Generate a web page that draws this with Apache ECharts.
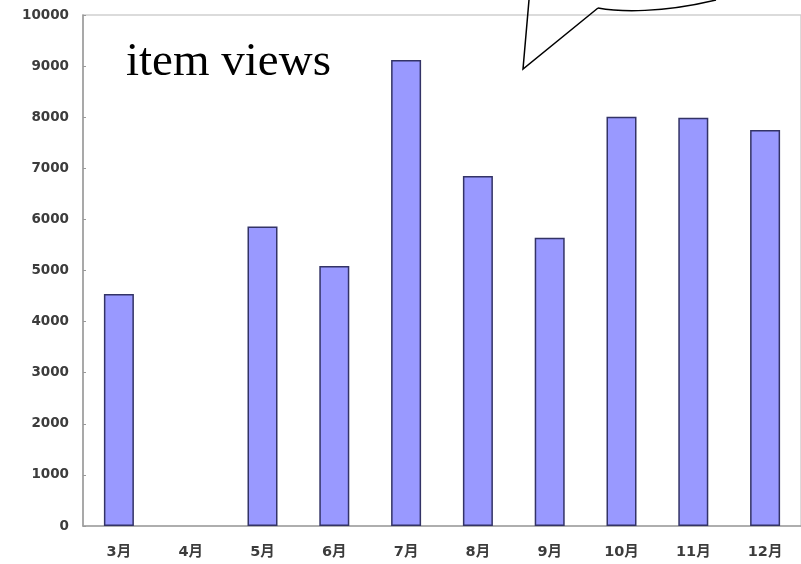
<!DOCTYPE html>
<html>
<head>
<meta charset="utf-8">
<script src="https://cdn.jsdelivr.net/npm/echarts@6/dist/echarts.min.js"></script>
<style>
  html, body { margin: 0; padding: 0; background: #ffffff; }
  #chart { width: 801px; height: 564px; }
</style>
</head>
<body>
<div id="chart"></div>
<script>
// Monthly item views
const months = ['3月', '4月', '5月', '6月', '7月', '8月', '9月', '10月', '11月', '12月'];
const views = [4540, '-', 5860, 5090, 9120, 6850, 5640, 8010, 7990, 7750];
const yTicks = { min: 0, max: 10000, step: 1000 };
const caption = 'item views';

const labelFont = "'DejaVu Sans', 'Noto Sans CJK JP', sans-serif";

const chart = echarts.init(document.getElementById('chart'), null, { renderer: 'canvas' });

chart.setOption({
  backgroundColor: '#ffffff',
  animation: false,
  grid: {
    left: 83,
    top: 15,
    width: 720,
    height: 511,
    show: true,
    borderColor: '#cfcfcf',
    borderWidth: 1.5,
    backgroundColor: 'transparent'
  },
  xAxis: {
    type: 'category',
    data: months,
    boundaryGap: true,
    axisLine: { lineStyle: { color: '#a0a0a0', width: 1.5 } },
    axisTick: { inside: true, length: 4, lineStyle: { color: '#a0a0a0' } },
    axisLabel: {
      margin: 19,
      fontSize: 14.5,
      fontWeight: 'bold',
      fontFamily: labelFont,
      color: '#3c3c3c'
    },
    splitLine: { show: false }
  },
  yAxis: {
    type: 'value',
    min: yTicks.min,
    max: yTicks.max,
    interval: yTicks.step,
    axisLine: { show: true, lineStyle: { color: '#999999', width: 1.5 } },
    axisTick: { show: true, inside: true, length: 3, lineStyle: { color: '#999999' } },
    axisLabel: {
      margin: 14,
      fontSize: 13.5,
      fontWeight: 'bold',
      fontFamily: labelFont,
      color: '#3c3c3c',
      formatter: (v) => String(v)
    },
    splitLine: { show: false }
  },
  series: [{
    type: 'bar',
    data: views,
    barWidth: 30,
    itemStyle: {
      color: '#9999ff',
      borderColor: '#333366',
      borderWidth: 1.5
    }
  }],
  graphic: [
    {
      type: 'text',
      left: 126,
      top: 39,
      style: {
        text: caption,
        fontFamily: "'Liberation Serif', 'Times New Roman', serif",
        fontSize: 47,
        fill: '#000000'
      },
      z: 10
    },
    {
      // speech-bubble outline: tail and lower rim of the balloon
      type: 'group',
      z: 10,
      children: [
        {
          type: 'polyline',
          shape: { points: [[529, 0], [523, 69], [598, 8]] },
          style: { stroke: '#000000', lineWidth: 1.5, fill: null }
        },
        {
          type: 'bezierCurve',
          shape: { x1: 598, y1: 8, cpx1: 620, cpy1: 12, cpx2: 662, cpy2: 13, x2: 716, y2: 0 },
          style: { stroke: '#000000', lineWidth: 1.5, fill: null }
        }
      ]
    }
  ]
});
</script>
</body>
</html>
